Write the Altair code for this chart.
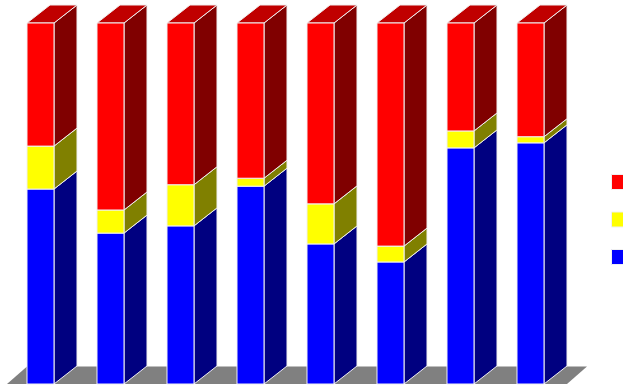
import altair as alt
import pandas as pd

categories = ["1", "2", "3", "4", "5", "6", "7", "8"]
series_names = ["Series 1", "Series 2", "Series 3"]
series1 = [54.0, 41.8, 43.8, 54.8, 38.8, 33.8, 65.4, 66.8]   # blue (bottom)
series2 = [11.9, 6.4, 11.4, 2.2, 11.1, 4.4, 4.7, 1.7]        # yellow
series3 = [34.1, 51.8, 44.8, 43.0, 50.1, 61.8, 29.9, 31.5]   # red (top)

front_colors = ["#0000FF", "#FFFF00", "#FF0000"]
side_colors = ["#000080", "#808000", "#800000"]
top_colors = ["#0000C0", "#C0C000", "#C00000"]

# geometry (in data units)
BAR_W = 27 / 70
DX = 23 / 70
DY = 18 / 361 * 100
FLOOR_DX = 20 / 70
FLOOR_DY = 17.5 / 361 * 100

front_rows, side_rows, top_rows = [], [], []
for i, cat in enumerate(categories):
    vals = [series1[i], series2[i], series3[i]]
    tot = sum(vals)
    cum = 0.0
    for s, v in zip(series_names, vals):
        v0 = cum / tot * 100
        cum += v
        v1 = cum / tot * 100
        key = f"{cat}-{s}"
        front_rows.append(dict(cat=cat, series=s, x0=i, x1=i + BAR_W, lo=v0, hi=v1))
        side_rows.append(dict(key=key, series=s, x=i + BAR_W, lo=v0, hi=v1))
        side_rows.append(dict(key=key, series=s, x=i + BAR_W + DX, lo=v0 + DY, hi=v1 + DY))
    top_s = series_names[-1]
    top_rows.append(dict(key=cat, series=top_s, y=100, xl=i, xr=i + BAR_W))
    top_rows.append(dict(key=cat, series=top_s, y=100 + DY, xl=i + DX, xr=i + BAR_W + DX))

n = len(categories)
floor_left = -20 / 70
floor_right = n - 1 + (567 - 27 - 7 * 70) / 70
floor_rows = [
    dict(y=0, xl=floor_left, xr=floor_right),
    dict(y=FLOOR_DY, xl=floor_left + FLOOR_DX, xr=floor_right + FLOOR_DX),
]

front_df = pd.DataFrame(front_rows)
side_df = pd.DataFrame(side_rows)
top_df = pd.DataFrame(top_rows)
floor_df = pd.DataFrame(floor_rows)

xscale = alt.Scale(domain=[-27 / 70, 596 / 70], nice=False, zero=False)
yscale = alt.Scale(domain=[-3 / 3.61, 100 + 23 / 3.61], nice=False, zero=False)

EDGE = "#F0F0F0"

floor = alt.Chart(floor_df).mark_area(orient="horizontal", color="#808080").encode(
    y=alt.Y("y:Q", scale=yscale, axis=None),
    x=alt.X("xl:Q", scale=xscale, axis=None),
    x2="xr:Q",
)

sides = alt.Chart(side_df).mark_area(orient="vertical", stroke=EDGE, strokeWidth=1).encode(
    x=alt.X("x:Q", scale=xscale, axis=None),
    y=alt.Y("lo:Q", scale=yscale, axis=None),
    y2="hi:Q",
    detail="key:N",
    fill=alt.Fill("series:N", scale=alt.Scale(domain=series_names, range=side_colors), legend=None),
)

tops = alt.Chart(top_df).mark_area(orient="horizontal", stroke=EDGE, strokeWidth=1).encode(
    y=alt.Y("y:Q", scale=yscale, axis=None),
    x=alt.X("xl:Q", scale=xscale, axis=None),
    x2="xr:Q",
    detail="key:N",
    fill=alt.Fill("series:N", scale=alt.Scale(domain=series_names, range=top_colors), legend=None),
)

fronts = alt.Chart(front_df).mark_rect(stroke=EDGE, strokeWidth=1).encode(
    x=alt.X("x0:Q", scale=xscale, axis=None),
    x2="x1:Q",
    y=alt.Y("lo:Q", scale=yscale, axis=None),
    y2="hi:Q",
    fill=alt.Fill(
        "series:N",
        scale=alt.Scale(domain=series_names[::-1], range=front_colors[::-1]),
        legend=alt.Legend(
            title=None, orient="none", legendX=611, legendY=174,
            symbolType="square", symbolSize=225, symbolStrokeColor=EDGE,
            symbolStrokeWidth=1, symbolOpacity=1, rowPadding=17.5,
            labelFontSize=12, labelFont="Liberation Sans", labelExpr="''",
            symbolOffset=0,
        ),
    ),
)

chart = alt.layer(floor, sides, tops, fronts).resolve_scale(fill="independent").properties(
    width=623, height=387, padding=0, autosize=alt.AutoSizeParams(type="none")
).configure_view(stroke=None)

chart.save("out.html", embed_options={"renderer": "svg", "actions": False})
